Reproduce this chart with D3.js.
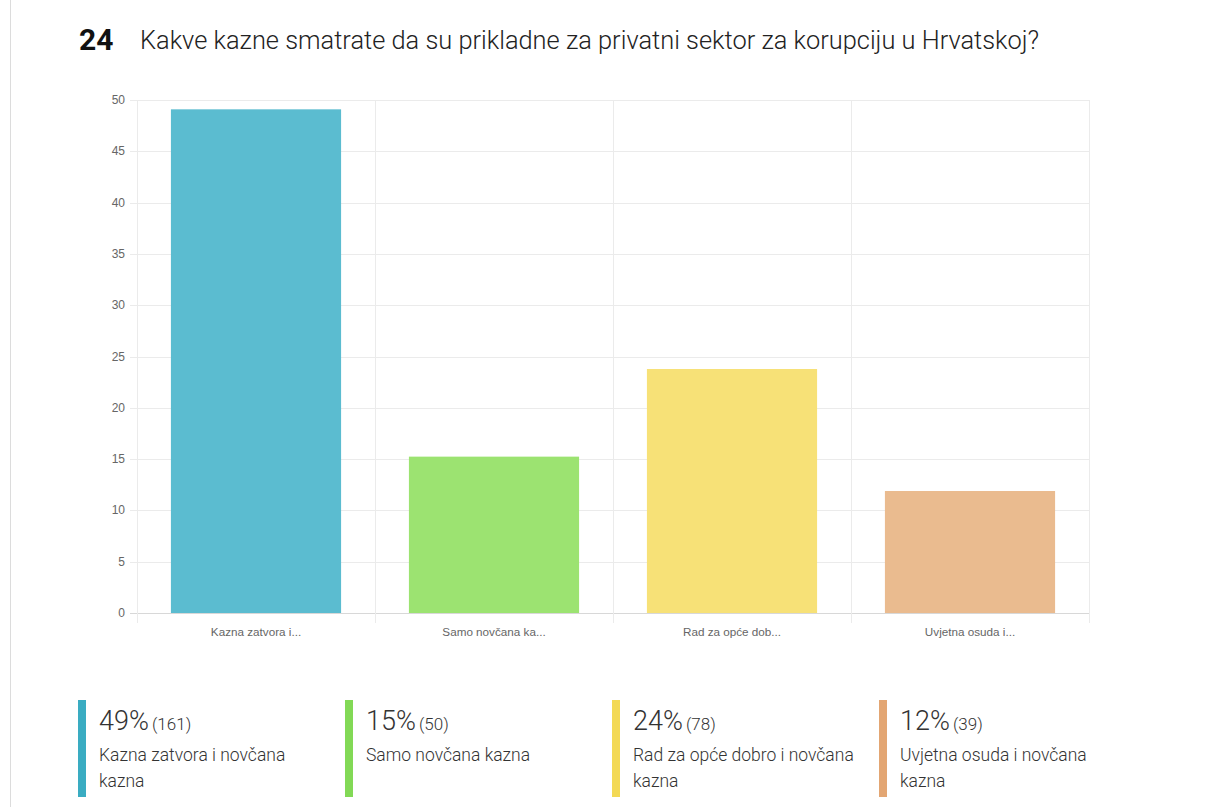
<!DOCTYPE html>
<html>
<head>
<meta charset="utf-8">
<script src="https://cdn.jsdelivr.net/npm/d3@7"></script>
<style>
  body { margin: 0; background: #fff; }
  svg { display: block; }
</style>
</head>
<body>
<svg id="chart" width="1215" height="807"></svg>
<script>
// chart data
const categories = ['Kazna zatvora i novčana kazna', 'Samo novčana kazna', 'Rad za opće dobro i novčana kazna', 'Uvjetna osuda i novčana kazna'];
const shortLabels = ['Kazna zatvora i...', 'Samo novčana ka...', 'Rad za opće dob...', 'Uvjetna osuda i...'];
const percents = [49.09, 15.24, 23.78, 11.89];
const pctLabels = ['49%', '15%', '24%', '12%'];
const counts = [161, 50, 78, 39];
const yTicks = [0, 5, 10, 15, 20, 25, 30, 35, 40, 45, 50];
const barColors = ['#5bbcd0', '#9ce371', '#f7e177', '#eabb8f'];
const legendColors = ['#3aacc2', '#82d956', '#f3d955', '#e3a673'];

const svg = d3.select('#chart');

// left page border
svg.append('line')
  .attr('x1', 10.5).attr('x2', 10.5).attr('y1', 0).attr('y2', 807)
  .attr('stroke', '#dcdcdc');

// title
svg.append('text')
  .attr('x', 79).attr('y', 50)
  .style('font-family', 'Roboto, sans-serif')
  .style('font-weight', 'bold')
  .style('font-size', '30px')
  .attr('fill', '#111')
  .text('24');
svg.append('text')
  .attr('x', 140).attr('y', 49)
  .style('font-family', 'Roboto, sans-serif')
  .style('font-size', '25.4px')
  .style('font-weight', '300')
  .attr('fill', '#222')
  .text('Kakve kazne smatrate da su prikladne za privatni sektor za korupciju u Hrvatskoj?');

const plotL = 137, plotR = 1089, plotT = 100, plotB = 613;

const x = d3.scaleBand().domain(categories).range([plotL, plotR]).paddingInner(0).paddingOuter(0);
const y = d3.scaleLinear().domain([0, 50]).range([plotB, plotT]);

const g = svg.append('g');

// horizontal grid
g.selectAll('.hgrid')
  .data(yTicks)
  .enter().append('line')
  .attr('class', 'hgrid')
  .attr('x1', plotL - 7).attr('x2', plotR)
  .attr('y1', d => Math.round(y(d)) + 0.5).attr('y2', d => Math.round(y(d)) + 0.5)
  .attr('stroke', d => d === 0 ? '#d8d8d8' : '#ebebeb');

// vertical grid at category boundaries
const bounds = categories.map(c => x(c)).concat([plotR]);
g.selectAll('.vgrid')
  .data(bounds)
  .enter().append('line')
  .attr('class', 'vgrid')
  .attr('x1', d => Math.round(d) + 0.5).attr('x2', d => Math.round(d) + 0.5)
  .attr('y1', plotT).attr('y2', plotB + 10)
  .attr('stroke', '#ebebeb');

// y tick labels
g.selectAll('.ylab')
  .data(yTicks)
  .enter().append('text')
  .attr('class', 'ylab')
  .attr('x', plotL - 12)
  .attr('y', d => y(d) + 4)
  .attr('text-anchor', 'end')
  .style('font-family', '"Liberation Sans", Arial, sans-serif')
  .style('font-size', '12px')
  .attr('fill', '#666')
  .text(d => d);

// bars
const barW = x.bandwidth() * 0.715;
g.selectAll('.bar')
  .data(categories)
  .enter().append('rect')
  .attr('class', 'bar')
  .attr('x', d => x(d) + (x.bandwidth() - barW) / 2)
  .attr('width', barW)
  .attr('y', (d, i) => y(percents[i]))
  .attr('height', (d, i) => plotB - y(percents[i]))
  .attr('fill', (d, i) => barColors[i]);

// x labels
g.selectAll('.xlab')
  .data(categories)
  .enter().append('text')
  .attr('class', 'xlab')
  .attr('x', d => x(d) + x.bandwidth() / 2)
  .attr('y', 636)
  .attr('text-anchor', 'middle')
  .style('font-family', '"Liberation Sans", Arial, sans-serif')
  .style('font-size', '11.7px')
  .attr('fill', '#666')
  .text((d, i) => shortLabels[i]);

// legend
const legX = d3.scaleBand().domain(categories).range([78, 1146]);
const legend = svg.selectAll('.legend')
  .data(categories)
  .enter().append('g')
  .attr('class', 'legend')
  .attr('transform', d => `translate(${legX(d)},700)`);

legend.append('rect')
  .attr('width', 8).attr('height', 97)
  .attr('fill', (d, i) => legendColors[i]);

const pct = legend.append('text')
  .attr('x', 21).attr('y', 30)
  .style('font-family', 'Roboto, sans-serif')
  .style('font-weight', '300')
  .attr('fill', '#333');
pct.append('tspan')
  .style('font-size', '27px')
  .text((d, i) => pctLabels[i]);
pct.append('tspan')
  .attr('dx', 3)
  .style('font-size', '17px')
  .text((d, i) => '(' + counts[i] + ')');

legend.each(function(d) {
  const t = d3.select(this).append('text')
    .attr('x', 21).attr('y', 61)
    .style('font-family', 'Roboto, sans-serif')
    .style('font-size', '17.5px')
    .style('font-weight', '300')
    .attr('fill', '#333');
  const words = d.split(' ');
  let line = [];
  let tspan = t.append('tspan').attr('x', 21).attr('dy', 0);
  words.forEach(w => {
    line.push(w);
    tspan.text(line.join(' '));
    if (tspan.node().getComputedTextLength() > 232 && line.length > 1) {
      line.pop();
      tspan.text(line.join(' '));
      line = [w];
      tspan = t.append('tspan').attr('x', 21).attr('dy', 26).text(w);
    }
  });
});
</script>
</body>
</html>
